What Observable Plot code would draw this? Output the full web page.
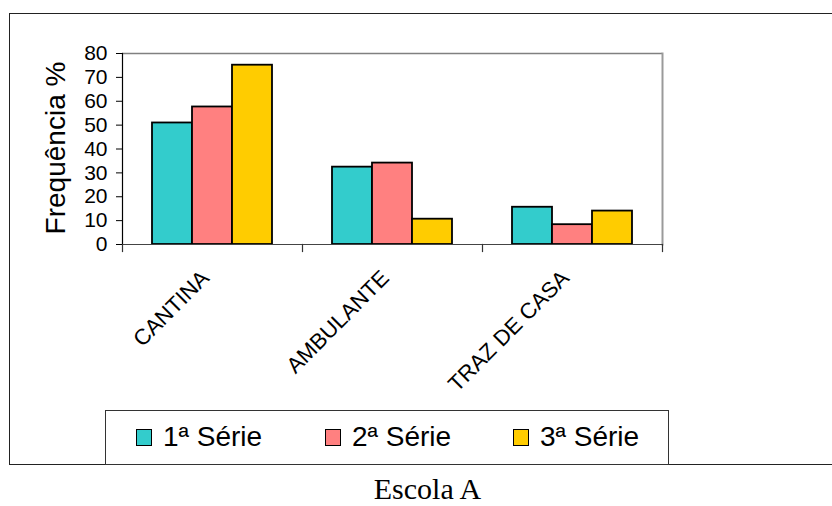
<!DOCTYPE html>
<html>
<head>
<meta charset="utf-8">
<script src="https://cdn.jsdelivr.net/npm/d3@7"></script>
<script src="https://cdn.jsdelivr.net/npm/@observablehq/plot@0.6"></script>
<style>
  html, body { margin: 0; padding: 0; background: #fff; }
  #page { position: relative; width: 832px; height: 506px; font-family: "Liberation Sans", Arial, sans-serif; }
  #box { position: absolute; left: 9px; top: 13px; width: 822px; height: 450px; border: 1px solid #222; border-right: none; }
  #chart { position: absolute; left: 0; top: 0; }
  #legend { position: absolute; left: 105px; top: 410px; width: 562px; height: 53px; border: 1px solid #333; background: #fff; }
  .item { position: absolute; top: 0; height: 53px; }
  .sw { position: absolute; left: 0; top: 18px; width: 16px; height: 17px; box-sizing: border-box; border: 1.5px solid #000; }
  .lb { position: absolute; left: 27px; top: 12px; font-size: 28px; line-height: 28px; white-space: nowrap; color: #000; }
  #caption { position: absolute; left: 0; width: 855px; top: 474px; text-align: center; font-family: "Liberation Serif", "Times New Roman", serif; font-size: 30px; line-height: 30px; color: #000; }
</style>
</head>
<body>
<div id="page">
  <div id="box"></div>
  <div id="chart"></div>
  <div id="legend"></div>
  <div id="caption">Escola A</div>
</div>
<script>
// Onde os alunos obtêm o lanche, por série (Escola A)
const categorias = ["CANTINA", "AMBULANTE", "TRAZ DE CASA"];
const series = ["1ª Série", "2ª Série", "3ª Série"];
const serie1 = [50.9, 32.4, 15.6];
const serie2 = [57.6, 34.1, 8.3];
const serie3 = [75.1, 10.6, 14.0];
const cores = ["#33CCCC", "#FF8080", "#FFCC00"];
const yTicks = [0, 10, 20, 30, 40, 50, 60, 70, 80];

const valores = [serie1, serie2, serie3];
const linhas = categorias.flatMap((c, i) =>
  series.map((s, j) => ({categoria: c, serie: s, valor: valores[j][i]}))
);

const W = 832, H = 400;
const mTop = 53, mBottom = 156, mLeft = 121, mRight = 170;
const innerH = H - mTop - mBottom;

const chart = Plot.plot({
  width: W,
  height: H,
  marginTop: mTop,
  marginBottom: mBottom,
  marginLeft: mLeft,
  marginRight: mRight,
  style: {fontFamily: "'Liberation Sans', Arial, sans-serif", background: "transparent", overflow: "visible", color: "#000"},
  fx: {domain: categorias, padding: 0, label: null},
  x: {domain: series, paddingInner: 0, paddingOuter: 0.75, axis: null},
  y: {domain: [0, 80], label: null},
  color: {domain: series, range: cores},
  marks: [
    // limites superior e direito da área de plotagem
    Plot.ruleY([80], {stroke: "#808080", strokeWidth: 1.5}),
    Plot.frame({anchor: "right", facetAnchor: "right", stroke: "#9a9a9a", strokeWidth: 2}),
    Plot.barY(linhas, {fx: "categoria", x: "serie", y: "valor", fill: "serie", stroke: "#000", strokeWidth: 1.8}),
    // eixos
    Plot.ruleY([0], {stroke: "#444", strokeWidth: 1.2}),
    Plot.frame({anchor: "left", facetAnchor: "left", stroke: "#000", strokeWidth: 1.2}),
    Plot.frame({anchor: "left", insetTop: innerH, insetBottom: -7, stroke: "#333", strokeWidth: 1.2}),
    Plot.frame({anchor: "right", facetAnchor: "right", insetTop: innerH, insetBottom: -7, stroke: "#333", strokeWidth: 1.2}),
    Plot.axisY({ticks: yTicks, tickSize: 6, tickPadding: 9, fontSize: 21, label: null, stroke: "#000"}),
    Plot.axisFx({anchor: "bottom", tickRotate: -45, tickSize: 0, tickPadding: 30, dx: -7, fontSize: 22, label: null}),
    Plot.text(["Frequência %"], {frameAnchor: "left", facetAnchor: "left", textAnchor: "middle", rotate: -90, dx: -66, dy: -1, fontSize: 28, fill: "#000"})
  ]
});
document.getElementById("chart").append(chart);

// legenda
const legend = document.getElementById("legend");
const cor = chart.scale("color");
const posicoes = [30, 219, 407];
series.forEach((s, i) => {
  const item = document.createElement("div");
  item.className = "item";
  item.style.left = posicoes[i] + "px";
  const sw = document.createElement("div");
  sw.className = "sw";
  sw.style.background = cor.apply(s);
  const lb = document.createElement("div");
  lb.className = "lb";
  lb.textContent = s;
  item.append(sw, lb);
  legend.append(item);
});
</script>
</body>
</html>
